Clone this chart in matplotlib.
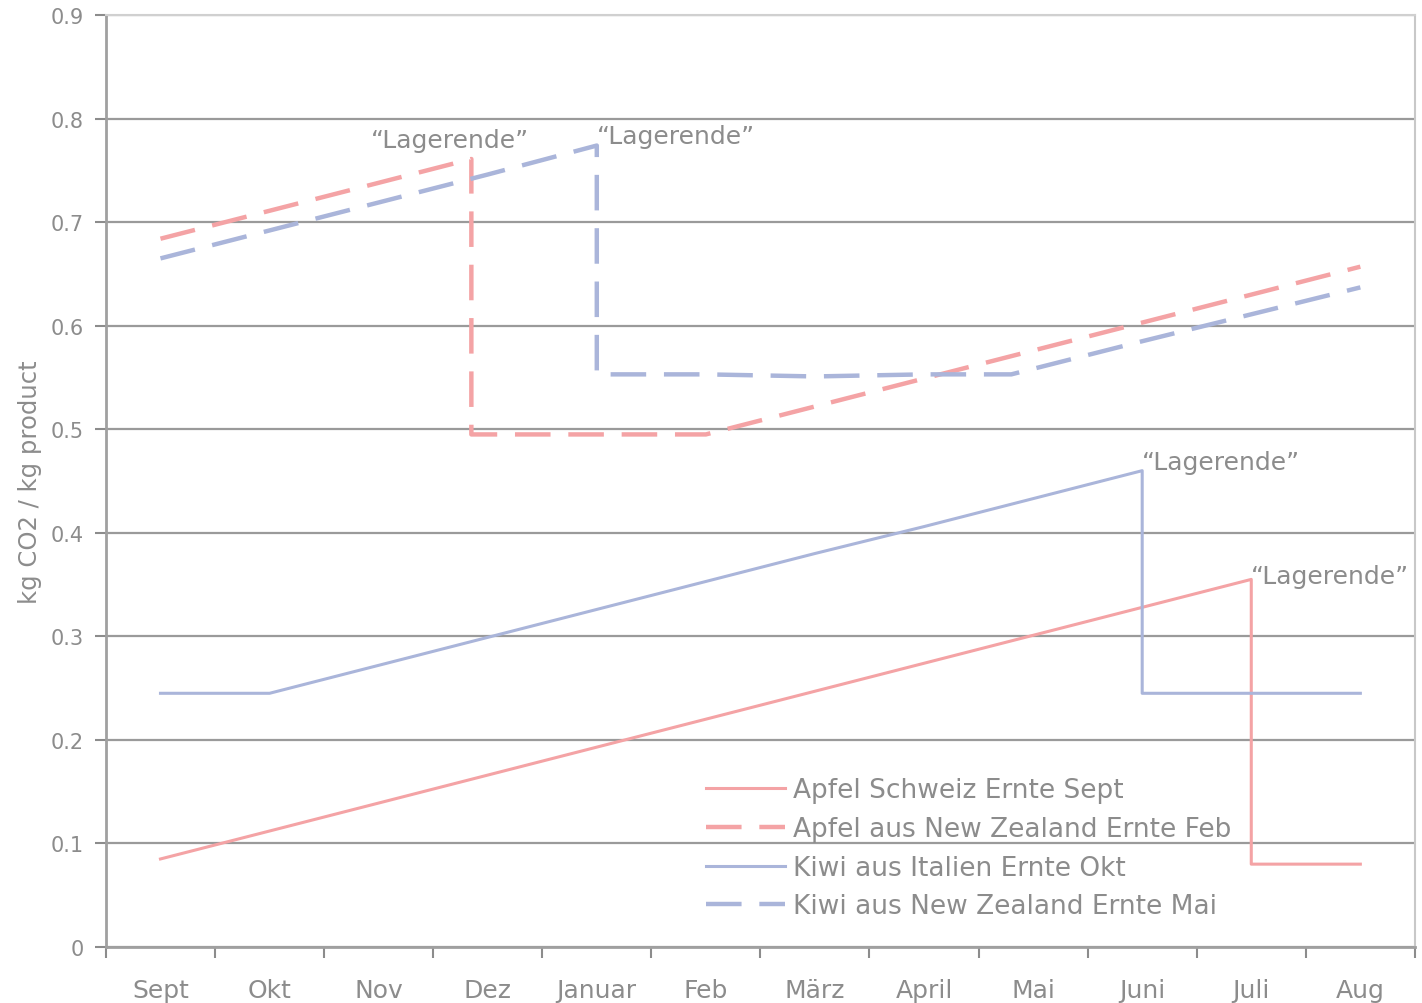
import matplotlib.pyplot as plt
import numpy as np

months = ["Sept", "Okt", "Nov", "Dez", "Januar", "Feb", "März",
          "April", "Mai", "Juni", "Juli", "Aug"]

# month index positions (Sept = 0) and kg CO2 per kg product
apfel_ch_x = [0, 1, 2, 3, 4, 5, 6, 7, 8, 9, 10, 10, 11]
apfel_ch_y = [0.085, 0.112, 0.139, 0.166, 0.193, 0.220, 0.247, 0.274,
              0.301, 0.328, 0.355, 0.080, 0.080]

apfel_nz_x = [0, 1, 2, 2.85, 2.85, 4, 5, 6, 7, 8, 9, 10, 11]
apfel_nz_y = [0.684, 0.711, 0.738, 0.761, 0.495, 0.495, 0.495, 0.522,
              0.549, 0.576, 0.603, 0.630, 0.657]

kiwi_it_x = [0, 1, 2, 3, 4, 5, 6, 7, 8, 9, 9, 10, 11]
kiwi_it_y = [0.245, 0.245, 0.272, 0.299, 0.326, 0.353, 0.380, 0.406,
             0.433, 0.460, 0.245, 0.245, 0.245]

kiwi_nz_x = [0, 1, 2, 3, 4, 4, 5, 6, 7, 7.8, 9, 10, 11]
kiwi_nz_y = [0.665, 0.692, 0.719, 0.746, 0.774, 0.553, 0.553, 0.551,
             0.553, 0.553, 0.585, 0.611, 0.637]

red = "#f4a3a5"
blue = "#aab5da"
grey = "#8c8c8c"

fig = plt.figure(figsize=(14.22, 10.04), dpi=100)
ax = fig.add_axes([0.0745, 0.0558, 0.9205, 0.9282])

ax.plot(apfel_ch_x, apfel_ch_y, color=red, lw=2.2,
        label="Apfel Schweiz Ernte Sept")
ax.plot(apfel_nz_x, apfel_nz_y, color=red, lw=3.2, dashes=(8, 4),
        label="Apfel aus New Zealand Ernte Feb")
ax.plot(kiwi_it_x, kiwi_it_y, color=blue, lw=2.2,
        label="Kiwi aus Italien Ernte Okt")
ax.plot(kiwi_nz_x, kiwi_nz_y, color=blue, lw=3.2, dashes=(8, 4),
        label="Kiwi aus New Zealand Ernte Mai")

# storage end labels at the drop points: (x, y, align, x shift, y shift)
ends = [(apfel_nz_x[3], apfel_nz_y[3], "center", -0.2, 0.018),
        (kiwi_nz_x[4], kiwi_nz_y[4], "left", 0.0, 0.009),
        (kiwi_it_x[9], kiwi_it_y[9], "left", 0.0, 0.008),
        (apfel_ch_x[10], apfel_ch_y[10], "left", 0.0, 0.003)]
for x, y, ha, dx, dy in ends:
    ax.text(x + dx, y + dy, "\u201cLagerende\u201d", ha=ha, va="center",
            fontsize=18, color=grey)

ax.set_xlim(-0.5, 11.5)
ax.set_ylim(0, 0.9)
ax.set_yticks(np.arange(0, 0.91, 0.1))
ax.set_yticklabels(["0"] + [f"{v:.1f}" for v in np.arange(0.1, 0.91, 0.1)])
ax.set_xticks(np.arange(-0.5, 12, 1))
ax.set_xticklabels([])
ax.set_xticks(np.arange(12), minor=True)
ax.set_xticklabels(months, minor=True)
ax.tick_params(axis="x", which="minor", length=0, pad=22,
               labelsize=18, labelcolor=grey)
ax.tick_params(axis="x", which="major", length=8, width=1.5, color=grey)
ax.tick_params(axis="y", length=8, width=1.5, color=grey,
               labelsize=15, labelcolor=grey, pad=8)

ax.grid(axis="y", color="#9a9a9a", lw=1.6)
ax.set_axisbelow(True)
for side in ["left", "bottom"]:
    ax.spines[side].set_color("#a0a0a0")
    ax.spines[side].set_linewidth(2)
ax.spines["right"].set_color("#c8c8c8")
ax.spines["right"].set_linewidth(1.5)
ax.spines["top"].set_color("#d0d0d0")
ax.spines["top"].set_linewidth(1.5)

ax.set_ylabel("kg CO2 / kg product", fontsize=17.5, color=grey, labelpad=6)

leg = ax.legend(loc="lower left", bbox_to_anchor=(0.44, 0.004), frameon=False,
                fontsize=19, handlelength=3.0, handletextpad=0.3,
                labelspacing=0.48, labelcolor=grey)

fig.savefig("out.png", dpi=100)
